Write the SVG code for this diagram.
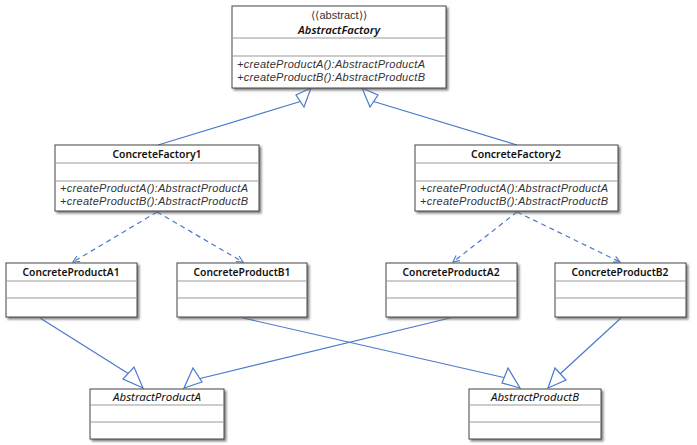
<svg xmlns="http://www.w3.org/2000/svg" width="697" height="445" viewBox="0 0 697 445">
<style>
.box{fill:#fff;stroke:#444;stroke-width:1;filter:url(#sh)}
.sep{stroke:#999;stroke-width:1}
.t{font-family:"Noto Sans","Open Sans",sans-serif;font-size:11.5px;fill:#111;text-anchor:middle}
.b{font-weight:600}
.i{font-style:italic}
.m{font-family:"Liberation Sans",Arial,sans-serif;font-size:11px;font-style:italic;fill:#333}
.st{font-family:"Liberation Sans",Arial,sans-serif;font-size:11px;fill:#333;text-anchor:middle}
.c{stroke:#4a78cc;stroke-width:1.2;fill:none}
.d{stroke-dasharray:5,4}
.tri{fill:#fff;stroke:#4a78cc;stroke-width:1.2}
</style>
<defs>
<filter id="sh" x="-5%" y="-5%" width="115%" height="130%">
<feDropShadow dx="2" dy="2" stdDeviation="1.3" flood-color="#666" flood-opacity="0.8"/>
</filter>
<marker id="open" viewBox="0 0 10 10" refX="9" refY="5" markerWidth="8" markerHeight="8" orient="auto" markerUnits="userSpaceOnUse">
<path d="M1,1 L9,5 L1,9" fill="none" stroke="#4a78cc" stroke-width="1.4"/>
</marker>
</defs>
<rect width="697" height="445" fill="#fff"/>

<g id="connectors">
<line class="c" x1="158" y1="145" x2="302" y2="101"/>
<polygon class="tri" points="311,88 296,95 304,107"/>
<line class="c" x1="517" y1="145" x2="372" y2="101"/>
<polygon class="tri" points="362,88 378,95 370,107"/>
<line class="c d" x1="157" y1="212" x2="73" y2="262" marker-end="url(#open)"/>
<line class="c d" x1="157" y1="212" x2="243" y2="262" marker-end="url(#open)"/>
<line class="c d" x1="517" y1="212" x2="453" y2="262" marker-end="url(#open)"/>
<line class="c d" x1="517" y1="212" x2="620" y2="262" marker-end="url(#open)"/>
<line class="c" x1="40" y1="318" x2="129" y2="374"/>
<polygon class="tri" points="143,388 123,379 134,367"/>
<line class="c" x1="450" y1="318" x2="198" y2="379"/>
<polygon class="tri" points="184,388 193,368 202,382"/>
<line class="c" x1="243" y1="318" x2="506" y2="378"/>
<polygon class="tri" points="520,388 502,383 508,368"/>
<line class="c" x1="621" y1="318" x2="560" y2="374"/>
<polygon class="tri" points="548,388 555,368 566,380"/>
</g>

<g id="AbstractFactory">
<rect class="box" x="232" y="6" width="214" height="82"/>
<line class="sep" x1="232" y1="38" x2="446" y2="38"/>
<line class="sep" x1="232" y1="56" x2="446" y2="56"/>
<text class="st" x="339" y="19">⟨⟨abstract⟩⟩</text>
<text class="t b i" x="339" y="34" textLength="82" lengthAdjust="spacingAndGlyphs">AbstractFactory</text>
<text class="m" x="237" y="68" textLength="188">+createProductA():AbstractProductA</text>
<text class="m" x="237" y="81" textLength="188">+createProductB():AbstractProductB</text>
</g>

<g id="ConcreteFactory1">
<rect class="box" x="55" y="145" width="204" height="66"/>
<line class="sep" x1="55" y1="163" x2="259" y2="163"/>
<line class="sep" x1="55" y1="181" x2="259" y2="181"/>
<text class="t b" x="157" y="158" textLength="89" lengthAdjust="spacingAndGlyphs">ConcreteFactory1</text>
<text class="m" x="60" y="192" textLength="188">+createProductA():AbstractProductA</text>
<text class="m" x="60" y="205" textLength="188">+createProductB():AbstractProductB</text>
</g>

<g id="ConcreteFactory2">
<rect class="box" x="415" y="145" width="203" height="66"/>
<line class="sep" x1="415" y1="163" x2="618" y2="163"/>
<line class="sep" x1="415" y1="181" x2="618" y2="181"/>
<text class="t b" x="516" y="158" textLength="90" lengthAdjust="spacingAndGlyphs">ConcreteFactory2</text>
<text class="m" x="420" y="192" textLength="188">+createProductA():AbstractProductA</text>
<text class="m" x="420" y="205" textLength="188">+createProductB():AbstractProductB</text>
</g>

<g id="ConcreteProductA1">
<rect class="box" x="6" y="263" width="131" height="54"/>
<line class="sep" x1="6" y1="281" x2="137" y2="281"/>
<line class="sep" x1="6" y1="298" x2="137" y2="298"/>
<text class="t b" x="71" y="276" textLength="97" lengthAdjust="spacingAndGlyphs">ConcreteProductA1</text>
</g>

<g id="ConcreteProductB1">
<rect class="box" x="177" y="263" width="130" height="54"/>
<line class="sep" x1="177" y1="281" x2="307" y2="281"/>
<line class="sep" x1="177" y1="298" x2="307" y2="298"/>
<text class="t b" x="242" y="276" textLength="97" lengthAdjust="spacingAndGlyphs">ConcreteProductB1</text>
</g>

<g id="ConcreteProductA2">
<rect class="box" x="386" y="263" width="131" height="54"/>
<line class="sep" x1="386" y1="281" x2="517" y2="281"/>
<line class="sep" x1="386" y1="298" x2="517" y2="298"/>
<text class="t b" x="451" y="276" textLength="97" lengthAdjust="spacingAndGlyphs">ConcreteProductA2</text>
</g>

<g id="ConcreteProductB2">
<rect class="box" x="555" y="263" width="131" height="54"/>
<line class="sep" x1="555" y1="281" x2="686" y2="281"/>
<line class="sep" x1="555" y1="298" x2="686" y2="298"/>
<text class="t b" x="620" y="276" textLength="97" lengthAdjust="spacingAndGlyphs">ConcreteProductB2</text>
</g>

<g id="AbstractProductA">
<rect class="box" x="90" y="389" width="134" height="50"/>
<line class="sep" x1="90" y1="405" x2="224" y2="405"/>
<line class="sep" x1="90" y1="422" x2="224" y2="422"/>
<text class="t i" x="157" y="401" textLength="88" lengthAdjust="spacingAndGlyphs">AbstractProductA</text>
</g>

<g id="AbstractProductB">
<rect class="box" x="469" y="389" width="132" height="50"/>
<line class="sep" x1="469" y1="405" x2="601" y2="405"/>
<line class="sep" x1="469" y1="422" x2="601" y2="422"/>
<text class="t i" x="535" y="401" textLength="88" lengthAdjust="spacingAndGlyphs">AbstractProductB</text>
</g>
</svg>
